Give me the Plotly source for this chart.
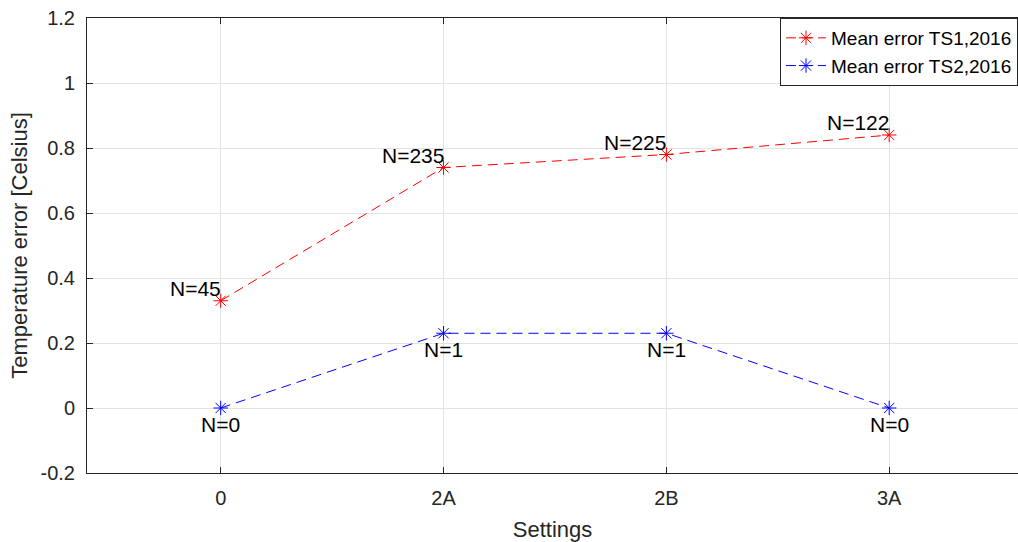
import plotly.graph_objects as go

settings = ["0", "2A", "2B", "3A"]
x_pos = [1, 2, 3, 4]
ts1_mean = [0.33, 0.74, 0.78, 0.84]
ts2_mean = [0.0, 0.23, 0.23, 0.0]
ts1_n = ["N=45", "N=235", "N=225", "N=122"]
ts2_n = ["N=0", "N=1", "N=1", "N=0"]
y_ticks = [-0.2, 0, 0.2, 0.4, 0.6, 0.8, 1, 1.2]
y_tick_text = ["-0.2", "0", "0.2", "0.4", "0.6", "0.8", "1", "1.2"]

FONT = "Liberation Sans, Arial, Helvetica, sans-serif"
AX = "#262626"
DASH = "10px,6px"

fig = go.Figure()
fig.add_trace(go.Scatter(
    x=x_pos, y=ts1_mean, mode="lines+markers", name="Mean error TS1,2016",
    line=dict(color="#ff0000", width=1, dash=DASH),
    marker=dict(symbol="asterisk-open", size=12, color="#ff0000",
                line=dict(color="#ff0000", width=1)),
))
fig.add_trace(go.Scatter(
    x=x_pos, y=ts2_mean, mode="lines+markers", name="Mean error TS2,2016",
    line=dict(color="#0000ff", width=1, dash=DASH),
    marker=dict(symbol="asterisk-open", size=12, color="#0000ff",
                line=dict(color="#0000ff", width=1)),
))

annotations = []
for xv, yv, t in zip(x_pos, ts1_mean, ts1_n):
    annotations.append(dict(x=xv, y=yv, text=t, showarrow=False,
                            xanchor="right", yanchor="bottom", xshift=2, yshift=-1,
                            font=dict(family=FONT, size=21, color="#000000")))
for xv, yv, t in zip(x_pos, ts2_mean, ts2_n):
    annotations.append(dict(x=xv, y=yv, text=t, showarrow=False,
                            xanchor="center", yanchor="top", yshift=-3,
                            font=dict(family=FONT, size=21, color="#000000")))

fig.update_layout(
    width=1018, height=542,
    margin=dict(l=87, r=0, t=18, b=69),
    paper_bgcolor="white", plot_bgcolor="white",
    font=dict(family=FONT, size=20, color=AX),
    annotations=annotations,
    showlegend=True,
    legend=dict(x=1, y=1, xanchor="right", yanchor="top",
                bgcolor="white", bordercolor=AX, borderwidth=1,
                font=dict(family=FONT, size=19, color="#000000"),
                tracegroupgap=0, itemwidth=40),
    xaxis=dict(range=[0.4, 4.578], tickvals=x_pos, ticktext=settings,
               showgrid=True, gridcolor="#e3e3e3", gridwidth=1,
               zeroline=False, showline=True, linecolor=AX, linewidth=1,
               mirror="ticks", ticks="inside", ticklen=6, tickcolor=AX,
               ticklabelstandoff=7,
               tickfont=dict(family=FONT, size=20, color=AX),
               title=dict(text="Settings", font=dict(family=FONT, size=22, color=AX),
                          standoff=13)),
    yaxis=dict(range=[-0.2, 1.2], tickvals=y_ticks, ticktext=y_tick_text,
               showgrid=True, gridcolor="#e3e3e3", gridwidth=1,
               zeroline=False, showline=True, linecolor=AX, linewidth=1,
               ticks="inside", ticklen=6, tickcolor=AX,
               ticklabelstandoff=7,
               tickfont=dict(family=FONT, size=20, color=AX),
               title=dict(text="Temperature error [Celsius]",
                          font=dict(family=FONT, size=22, color=AX), standoff=6)),
)

fig.write_html("out.html")
